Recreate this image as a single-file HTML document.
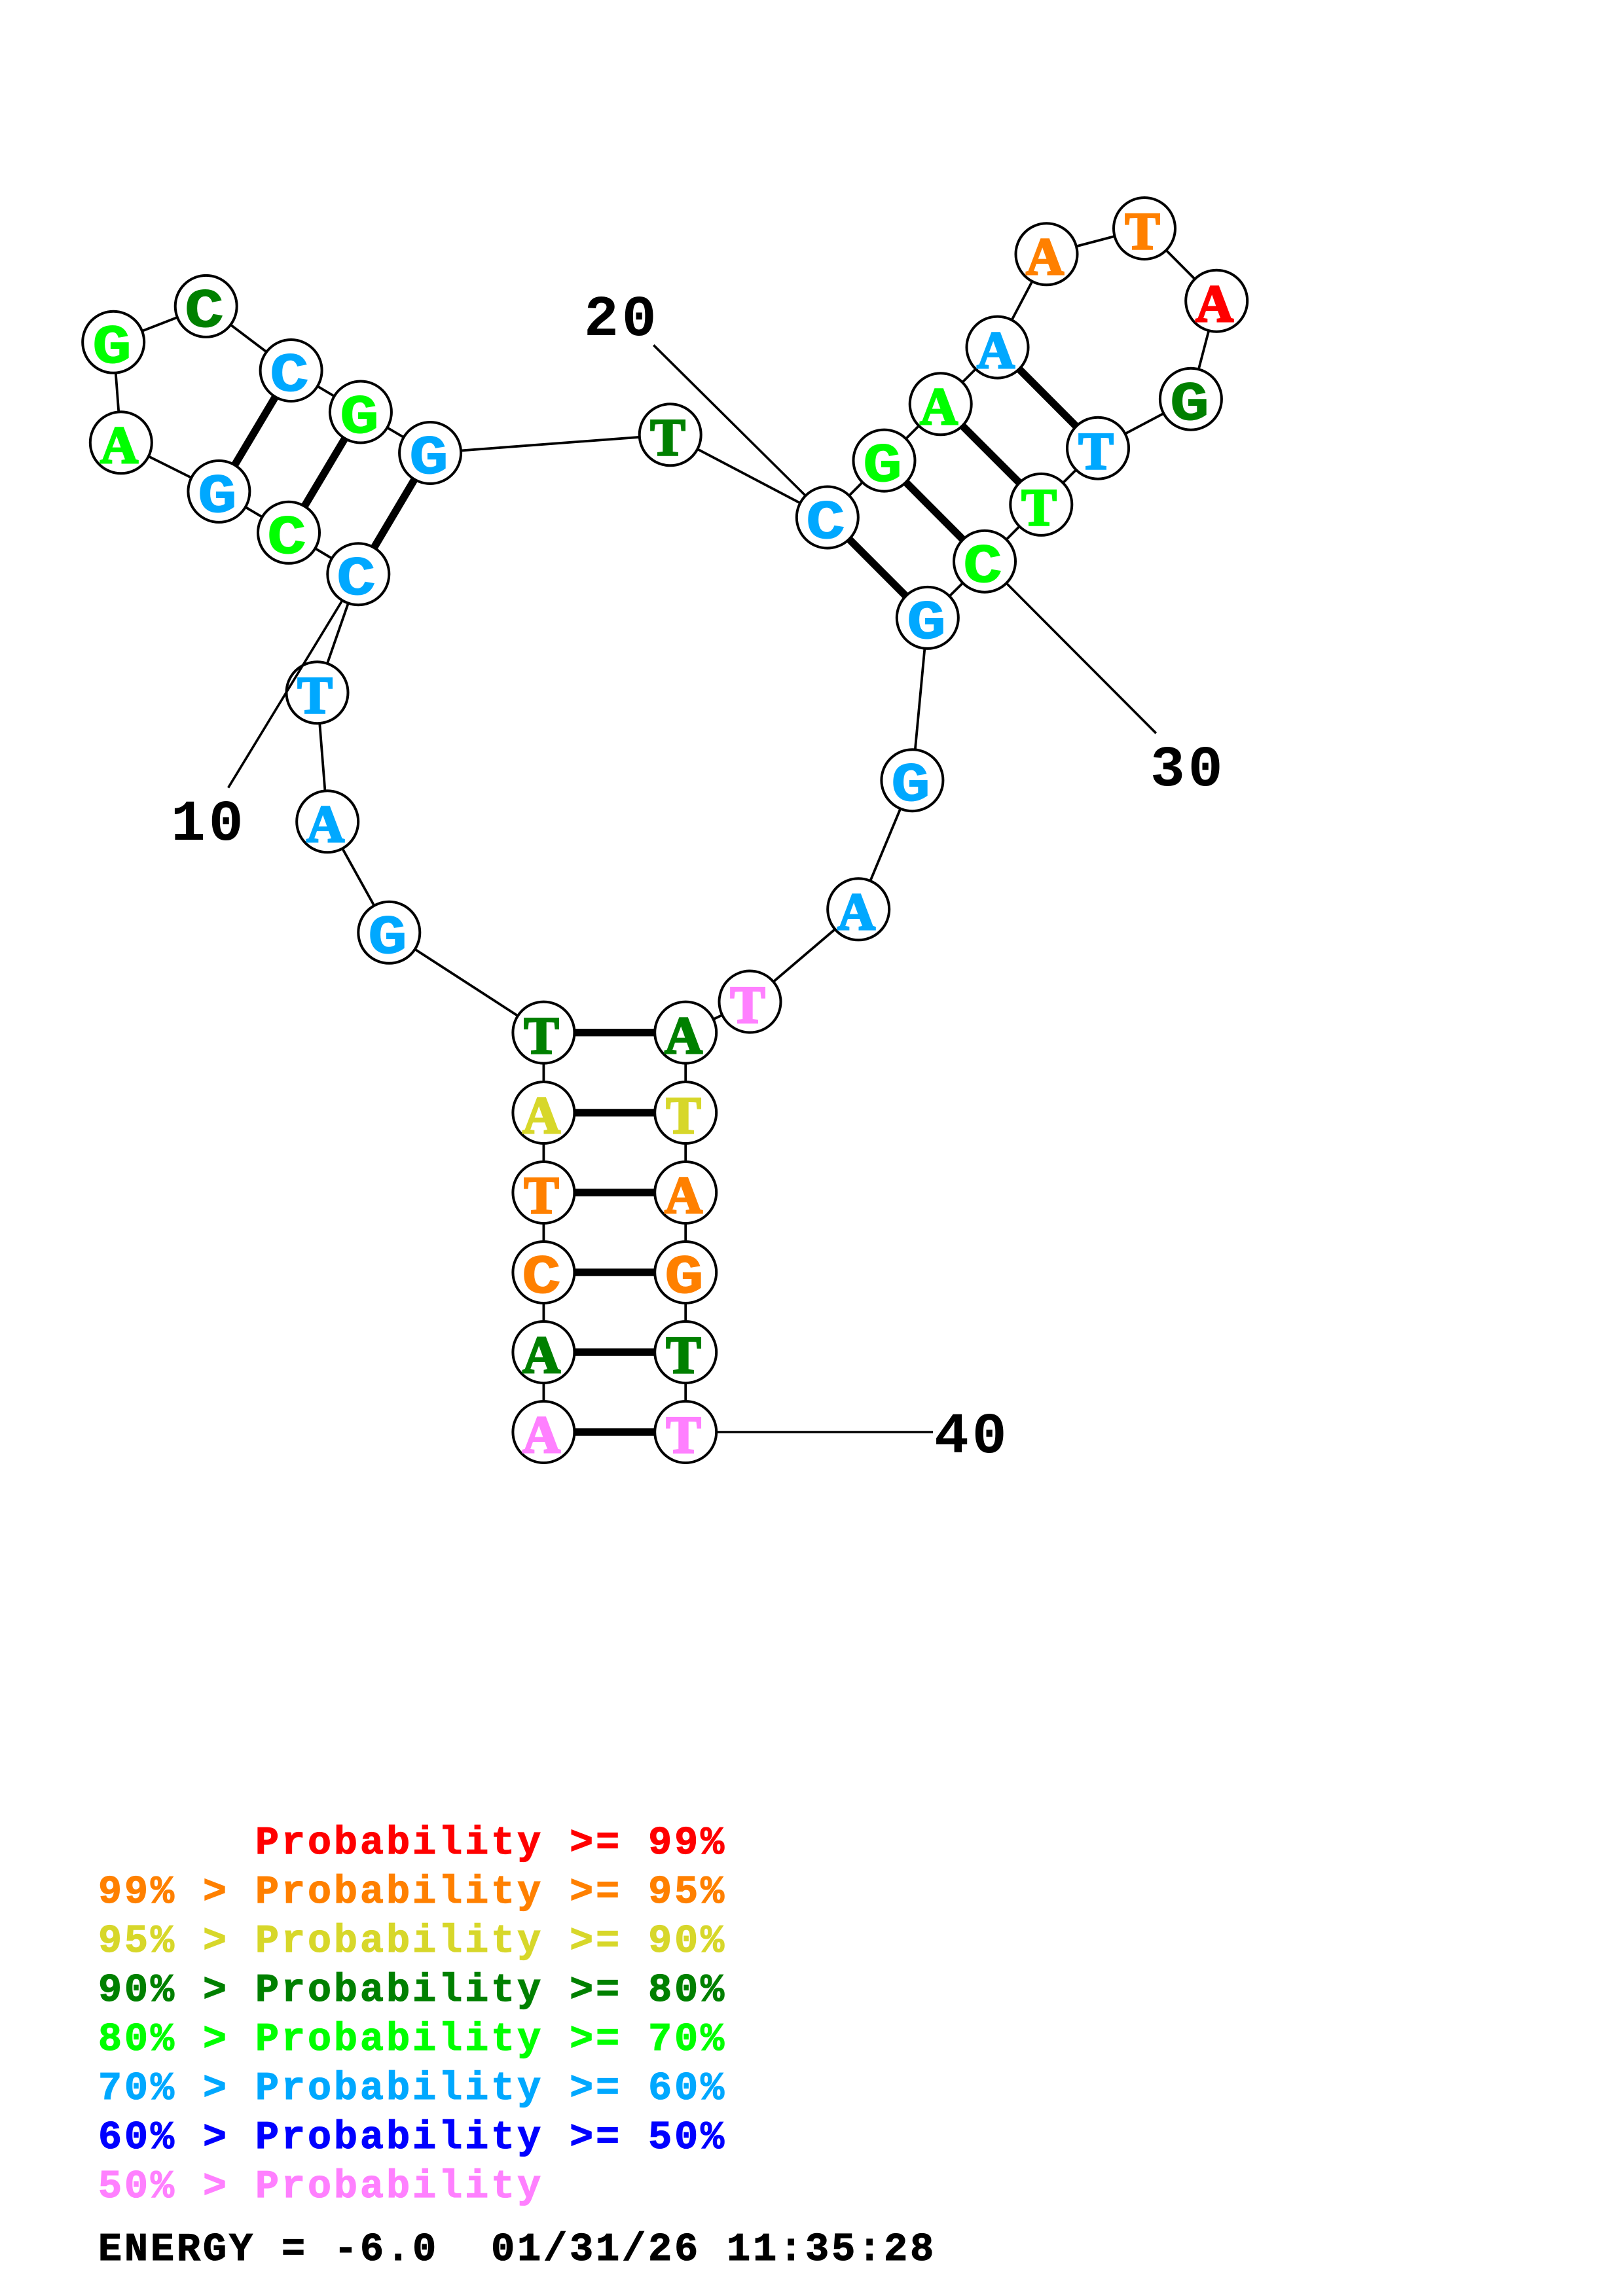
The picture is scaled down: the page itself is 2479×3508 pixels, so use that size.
<!DOCTYPE html>
<html><head><meta charset="utf-8"><title>Secondary structure</title>
<style>
html,body{margin:0;padding:0;background:#fff}
svg{display:block}
.n{font-family:"Liberation Serif",serif;font-weight:bold;font-size:80px;text-anchor:middle;stroke-width:3px}
.m{font-family:"Liberation Mono",monospace;font-size:84px;stroke-width:1px}
.l{font-family:"Liberation Mono",monospace;font-weight:bold;font-size:60px;letter-spacing:4px;white-space:pre;stroke-width:1.2px}
.d{font-family:"Liberation Mono",monospace;font-weight:bold;font-size:88px;letter-spacing:5px;fill:#000}
.c circle{fill:#fff;stroke:#000;stroke-width:4}
.o{fill:#ff8000;stroke:#ff8000}.y{fill:#d7d72a;stroke:#d7d72a}.k{fill:#008000;stroke:#008000}.g{fill:#00ff00;stroke:#00ff00}.b{fill:#00a8ff;stroke:#00a8ff}.p{fill:#ff80ff;stroke:#ff80ff}.r{fill:#ff0000;stroke:#ff0000}
.u{fill:#0000ff;stroke:#0000ff}.z{fill:#000;stroke:#000}
</style></head>
<body>
<svg xmlns="http://www.w3.org/2000/svg" width="2479" height="3508" viewBox="0 0 2479 3508">
<rect width="2479" height="3508" fill="#fff"/>
<polyline fill="none" stroke="#000" stroke-width="3.8" points="830.4,2188 830.4,2066 830.4,1944 830.4,1822 830.4,1700 830.4,1577.6 594.3,1424.8 500.2,1255.3 484.5,1058.2 547.3,877.2 441,813.8 334.4,750.9 184.8,676.3 173.2,522.8 314.7,467.9 444.6,566 550.9,629.5 657.1,692 1023.7,664.3 1263.8,790.5 1350.5,703.6 1436.7,617.3 1523.5,530.6 1598.5,388.3 1748,349 1858.2,459.7 1818.9,609.7 1677,684.7 1590.3,770.9 1504,857.7 1416.8,943.9 1393.4,1192.2 1311.2,1389.3 1145.5,1530.5 1047.2,1577.6 1047.2,1700 1047.2,1822 1047.2,1944 1047.2,2066 1047.2,2188"/>
<g stroke="#000" stroke-width="11.5">
<line x1="830.4" y1="2188" x2="1047.2" y2="2188"/>
<line x1="830.4" y1="2066" x2="1047.2" y2="2066"/>
<line x1="830.4" y1="1944" x2="1047.2" y2="1944"/>
<line x1="830.4" y1="1822" x2="1047.2" y2="1822"/>
<line x1="830.4" y1="1700" x2="1047.2" y2="1700"/>
<line x1="830.4" y1="1577.6" x2="1047.2" y2="1577.6"/>
<line x1="547.3" y1="877.2" x2="657.1" y2="692"/>
<line x1="441" y1="813.8" x2="550.9" y2="629.5"/>
<line x1="334.4" y1="750.9" x2="444.6" y2="566"/>
<line x1="1263.8" y1="790.5" x2="1416.8" y2="943.9"/>
<line x1="1350.5" y1="703.6" x2="1504" y2="857.7"/>
<line x1="1436.7" y1="617.3" x2="1590.3" y2="770.9"/>
<line x1="1523.5" y1="530.6" x2="1677" y2="684.7"/>
</g>
<g class="c">
<circle cx="830.4" cy="2188" r="47"/><circle cx="830.4" cy="2066" r="47"/><circle cx="830.4" cy="1944" r="47"/><circle cx="830.4" cy="1822" r="47"/><circle cx="830.4" cy="1700" r="47"/><circle cx="830.4" cy="1577.6" r="47"/>
<circle cx="594.3" cy="1424.8" r="47"/><circle cx="500.2" cy="1255.3" r="47"/><circle cx="484.5" cy="1058.2" r="47"/>
<circle cx="441" cy="813.8" r="47"/><circle cx="334.4" cy="750.9" r="47"/><circle cx="184.8" cy="676.3" r="47"/><circle cx="173.2" cy="522.8" r="47"/><circle cx="314.7" cy="467.9" r="47"/><circle cx="444.6" cy="566" r="47"/><circle cx="550.9" cy="629.5" r="47"/><circle cx="657.1" cy="692" r="47"/><circle cx="1023.7" cy="664.3" r="47"/>
<circle cx="1350.5" cy="703.6" r="47"/><circle cx="1436.7" cy="617.3" r="47"/><circle cx="1523.5" cy="530.6" r="47"/><circle cx="1598.5" cy="388.3" r="47"/><circle cx="1748" cy="349" r="47"/><circle cx="1858.2" cy="459.7" r="47"/><circle cx="1818.9" cy="609.7" r="47"/><circle cx="1677" cy="684.7" r="47"/><circle cx="1590.3" cy="770.9" r="47"/>
<circle cx="1416.8" cy="943.9" r="47"/><circle cx="1393.4" cy="1192.2" r="47"/><circle cx="1311.2" cy="1389.3" r="47"/><circle cx="1145.5" cy="1530.5" r="47"/><circle cx="1047.2" cy="1577.6" r="47"/><circle cx="1047.2" cy="1700" r="47"/><circle cx="1047.2" cy="1822" r="47"/><circle cx="1047.2" cy="1944" r="47"/><circle cx="1047.2" cy="2066" r="47"/>
</g>
<g stroke="#000" stroke-width="3.6">
<line x1="547.3" y1="877.2" x2="348.6" y2="1203.6"/>
<line x1="1263.8" y1="790.5" x2="998.3" y2="527.3"/>
<line x1="1504" y1="857.7" x2="1765.8" y2="1120.3"/>
<line x1="1047.2" y1="2188" x2="1425" y2="2188"/>
</g>
<g class="c">
<circle cx="547.3" cy="877.2" r="47"/><circle cx="1263.8" cy="790.5" r="47"/><circle cx="1504" cy="857.7" r="47"/><circle cx="1047.2" cy="2188" r="47"/>
</g>
<text class="n p" x="827" y="2219">A</text>
<text class="n k" x="827" y="2097">A</text>
<text class="n m o" x="827" y="1975" textLength="60" lengthAdjust="spacingAndGlyphs">C</text>
<text class="n o" x="827" y="1853">T</text>
<text class="n y" x="827" y="1731">A</text>
<text class="n k" x="827" y="1609">T</text>
<text class="n m b" x="592" y="1456" textLength="60" lengthAdjust="spacingAndGlyphs">G</text>
<text class="n b" x="497" y="1286">A</text>
<text class="n b" x="481" y="1089">T</text>
<text class="n m b" x="544" y="908" textLength="60" lengthAdjust="spacingAndGlyphs">C</text>
<text class="n m g" x="438" y="845" textLength="60" lengthAdjust="spacingAndGlyphs">C</text>
<text class="n m b" x="332" y="782" textLength="60" lengthAdjust="spacingAndGlyphs">G</text>
<text class="n g" x="182" y="707">A</text>
<text class="n m g" x="171" y="554" textLength="60" lengthAdjust="spacingAndGlyphs">G</text>
<text class="n m k" x="312" y="499" textLength="60" lengthAdjust="spacingAndGlyphs">C</text>
<text class="n m b" x="442" y="597" textLength="60" lengthAdjust="spacingAndGlyphs">C</text>
<text class="n m g" x="549" y="661" textLength="60" lengthAdjust="spacingAndGlyphs">G</text>
<text class="n m b" x="655" y="723" textLength="60" lengthAdjust="spacingAndGlyphs">G</text>
<text class="n k" x="1020" y="695">T</text>
<text class="n m b" x="1261" y="822" textLength="60" lengthAdjust="spacingAndGlyphs">C</text>
<text class="n m g" x="1348" y="735" textLength="60" lengthAdjust="spacingAndGlyphs">G</text>
<text class="n g" x="1434" y="648">A</text>
<text class="n b" x="1521" y="562">A</text>
<text class="n o" x="1596" y="419">A</text>
<text class="n o" x="1745" y="380">T</text>
<text class="n r" x="1855" y="491">A</text>
<text class="n m k" x="1817" y="641" textLength="60" lengthAdjust="spacingAndGlyphs">G</text>
<text class="n b" x="1674" y="716">T</text>
<text class="n g" x="1587" y="802">T</text>
<text class="n m g" x="1501" y="889" textLength="60" lengthAdjust="spacingAndGlyphs">C</text>
<text class="n m b" x="1415" y="975" textLength="60" lengthAdjust="spacingAndGlyphs">G</text>
<text class="n m b" x="1391" y="1223" textLength="60" lengthAdjust="spacingAndGlyphs">G</text>
<text class="n b" x="1308" y="1420">A</text>
<text class="n p" x="1142" y="1562">T</text>
<text class="n k" x="1044" y="1609">A</text>
<text class="n y" x="1044" y="1731">T</text>
<text class="n o" x="1044" y="1853">A</text>
<text class="n m o" x="1045" y="1975" textLength="60" lengthAdjust="spacingAndGlyphs">G</text>
<text class="n k" x="1044" y="2097">T</text>
<text class="n p" x="1044" y="2219">T</text>
<text class="d" x="892" y="512">20</text>
<text class="d" x="261" y="1283">10</text>
<text class="d" x="1757" y="1200">30</text>
<text class="d" x="1427" y="2219">40</text>
<text class="l r" x="150" y="2832" xml:space="preserve">      Probability &gt;= 99%</text>
<text class="l o" x="150" y="2907" xml:space="preserve">99% &gt; Probability &gt;= 95%</text>
<text class="l y" x="150" y="2982" xml:space="preserve">95% &gt; Probability &gt;= 90%</text>
<text class="l k" x="150" y="3057" xml:space="preserve">90% &gt; Probability &gt;= 80%</text>
<text class="l g" x="150" y="3132" xml:space="preserve">80% &gt; Probability &gt;= 70%</text>
<text class="l b" x="150" y="3207" xml:space="preserve">70% &gt; Probability &gt;= 60%</text>
<text class="l u" x="150" y="3282" xml:space="preserve">60% &gt; Probability &gt;= 50%</text>
<text class="l p" x="150" y="3357" xml:space="preserve">50% &gt; Probability</text>
<text class="l z" x="150" y="3453" xml:space="preserve">ENERGY = -6.0  01/31/26 11:35:28</text>
</svg>
</body></html>
